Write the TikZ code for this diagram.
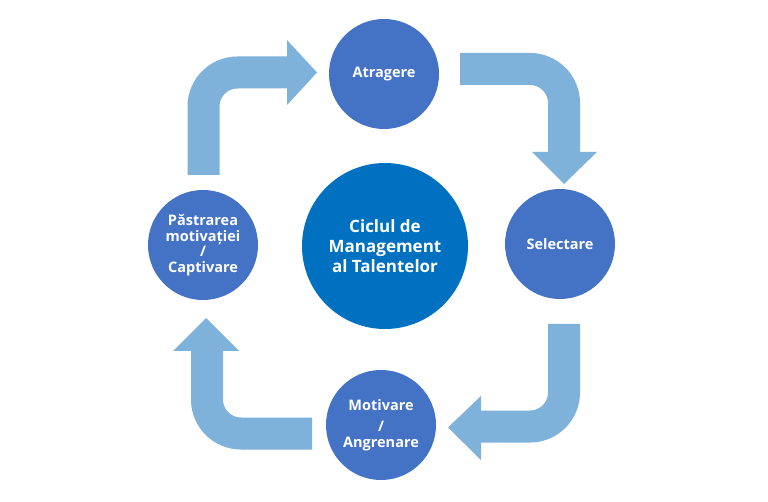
\documentclass[tikz,border=0pt]{standalone}
\usepackage{fontspec}
\setmainfont{Open Sans}
\definecolor{circblue}{HTML}{4472C4}
\definecolor{centblue}{HTML}{0070C0}
\definecolor{arrblue}{HTML}{7EB2DA}
\begin{document}
\begin{tikzpicture}[x=1pt,y=-1pt,
  stage/.style={circle,fill=circblue,minimum size=110pt,inner sep=0pt,text=white,
    font=\bfseries\fontsize{14.5}{15.5}\selectfont,align=center},
  hub/.style={circle,fill=centblue,minimum size=166pt,inner sep=0pt,text=white,
    font=\bfseries\fontsize{17}{20}\selectfont,align=center},
  shaft/.style={draw=arrblue,line width=32pt,rounded corners=34pt},
  head/.style={fill=arrblue}]
\useasboundingbox (0,0) rectangle (768,502);
\fill[white] (0,0) rectangle (768,502);
% circles
\node[stage] (atr) at (384,74) {Atragere};
\node[stage] (sel) at (560,244) {Selectare};
\node[stage] (mot) at (381,425) {Motivare\\[6pt]/\\Angrenare};
\node[stage] (pas) at (203,245) {Păstrarea\\motivației\\/\\Captivare};
\node[hub] (hub) at (385,246) {Ciclul de\\Management\\al Talentelor};
% arrow points
\coordinate (a1s) at (203.5,175); \coordinate (a1c) at (203.5,72.5); \coordinate (a1e) at (288,72.5);
\coordinate (a2s) at (460,69); \coordinate (a2c) at (564,69); \coordinate (a2e) at (564,153);
\coordinate (a3s) at (564,324); \coordinate (a3c) at (564,426.5); \coordinate (a3e) at (480,426.5);
\coordinate (a4s) at (312,433.5); \coordinate (a4c) at (207,433.5); \coordinate (a4e) at (207,350);
% arrows
\draw[shaft] (a1s) -- (a1c) -- (a1e);
\fill[head] (287,40) -- (317,72.5) -- (287,105) -- cycle;
\draw[shaft] (a2s) -- (a2c) -- (a2e);
\fill[head] (532,152) -- (564,184) -- (597,152) -- cycle;
\draw[shaft] (a3s) -- (a3c) -- (a3e);
\fill[head] (481,396) -- (448,427.5) -- (481,460) -- cycle;
\draw[shaft] (a4s) -- (a4c) -- (a4e);
\fill[head] (173,351) -- (206,318) -- (239,351) -- cycle;
\end{tikzpicture}
\end{document}
